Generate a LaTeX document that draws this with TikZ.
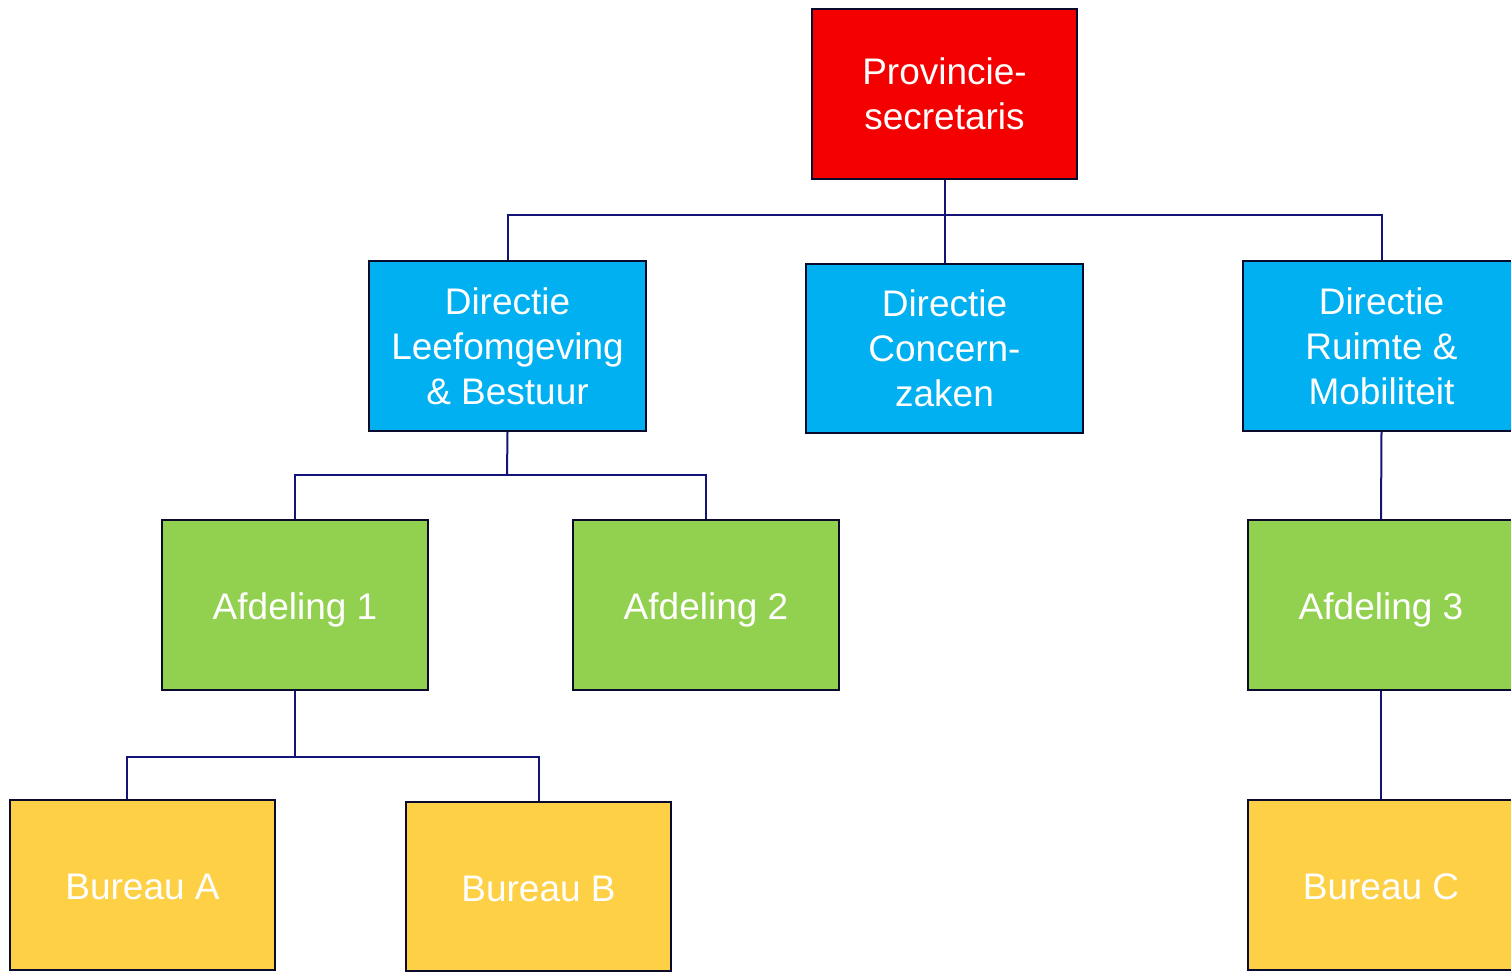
\documentclass[tikz,border=0pt]{standalone}
\usepackage{fontspec}
\setmainfont{Liberation Sans}
\definecolor{provred}{RGB}{244,0,0}
\definecolor{dircyan}{RGB}{0,176,240}
\definecolor{afdgreen}{RGB}{146,208,80}
\definecolor{burgold}{RGB}{254,208,70}
\definecolor{linknavy}{RGB}{20,20,120}
\definecolor{edgedark}{RGB}{10,10,45}
\newcommand{\lowtext}[2]{\raisebox{#1}[\height][\depth]{#2}}
\begin{document}
\begin{tikzpicture}[x=0.5pt,y=-0.5pt,
  box/.style={draw=edgedark, line width=1.2pt, text=white, align=center,
    inner sep=0pt, font=\fontsize{18.5pt}{22.5pt}\selectfont},
  wide/.style={minimum width=138.5pt, minimum height=85pt},
  narrow/.style={minimum width=133pt, minimum height=85pt},
  link/.style={draw=linknavy, line width=1pt}]
\useasboundingbox (0,0) rectangle (1511,972);
\clip (0,0) rectangle (1511,972);
\node[box, narrow, fill=provred, minimum width=132.5pt] (prov) at (944.5,94) {Provincie-\\secretaris};
\node[box, wide, fill=dircyan] (dirl) at (507.5,346) {Directie\\Leefomgeving\\\& Bestuur};
\node[box, wide, fill=dircyan, minimum height=84.5pt] (dirc) at (944.5,348.5) {Directie\\Concern-\\zaken};
\node[box, wide, fill=dircyan] (dirr) at (1381.5,346) {Directie\\Ruimte \&\\Mobiliteit};
\node[box, narrow, fill=afdgreen] (afd1) at (295,605) {\lowtext{-2.5pt}{Afdeling 1}};
\node[box, narrow, fill=afdgreen] (afd2) at (706,605) {\lowtext{-2.5pt}{Afdeling 2}};
\node[box, narrow, fill=afdgreen] (afd3) at (1381,605) {\lowtext{-2.5pt}{Afdeling 3}};
\node[box, narrow, fill=burgold, minimum width=132.5pt] (bura) at (142.5,885) {\lowtext{-1pt}{Bureau A}};
\node[box, narrow, fill=burgold, minimum width=132.5pt, minimum height=84.5pt] (burb) at (538.5,886.5) {\lowtext{-1pt}{Bureau B}};
\node[box, narrow, fill=burgold] (burc) at (1381,885) {\lowtext{-1pt}{Bureau C}};
\coordinate (bus1) at (945,215);
\coordinate (bus2) at (507,475);
\coordinate (bus3) at (295,757);
\coordinate (burajoin) at ([xshift=-7.75pt]bura.north);
\path[link] (prov.south) -- (dirc.north);
\path[link] (dirl.north) |- (bus1) -| (dirr.north);
\path[link] (dirl.south) -- (bus2);
\path[link] (afd1.north) |- (bus2) -| (afd2.north);
\path[link] (dirr.south) -- (afd3.north);
\path[link] (afd1.south) -- (bus3);
\path[link] (burajoin) |- (bus3) -| (burb.north);
\path[link] (afd3.south) -- (burc.north);
\end{tikzpicture}
\end{document}
